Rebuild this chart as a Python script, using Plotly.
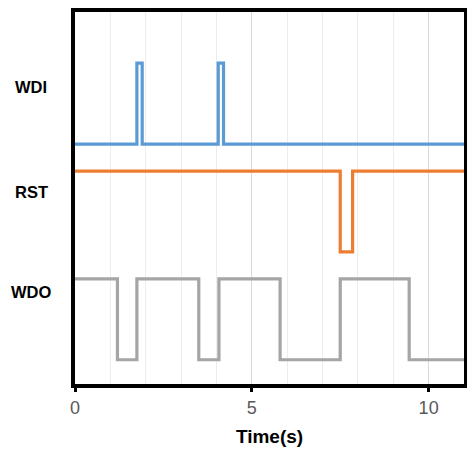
import plotly.graph_objects as go

# Signal step data (time in seconds, level in chart units)
wdi_t = [0, 1.75, 1.9, 4.05, 4.2, 11]
wdi_v = [8, 11, 8, 11, 8, 8]

rst_t = [0, 7.5, 7.85, 11]
rst_v = [7, 4, 7, 7]

wdo_t = [0, 1.2, 1.75, 3.5, 4.07, 5.8, 7.5, 9.45, 11]
wdo_v = [3, 0, 3, 0, 3, 0, 3, 0, 0]

signal_names = ["WDI", "RST", "WDO"]
signal_label_y = [10.12, 6.22, 2.51]
x_tickvals = [0, 5, 10]
x_ticktext = ["0", "5", "10"]

colors = ["#5B9BD5", "#ED7D31", "#A5A5A5"]

fig = go.Figure()
for t, v, name, c in zip([wdi_t, rst_t, wdo_t], [wdi_v, rst_v, wdo_v], signal_names, colors):
    fig.add_trace(go.Scatter(x=t, y=v, mode="lines", name=name,
                             line=dict(color=c, width=3.2, shape="hv"),
                             showlegend=False, hoverinfo="skip"))

for name, yv in zip(signal_names, signal_label_y):
    fig.add_annotation(text="<b>%s</b>" % name, x=(31 - 75) / 389, xref="paper", y=yv, yref="y",
                       xanchor="center", yanchor="middle", showarrow=False,
                       font=dict(family="Arial", size=16.5, color="#000000"))

fig.update_layout(
    width=467, height=450,
    margin=dict(l=75, r=3, t=12, b=66),
    plot_bgcolor="white", paper_bgcolor="white",
    xaxis=dict(range=[0, 11], tickvals=x_tickvals, ticktext=x_ticktext,
               showgrid=True, gridcolor="#D9D9D9", gridwidth=1,
               minor=dict(dtick=1, showgrid=True, gridcolor="#EDEDED", gridwidth=1),
               showline=True, linecolor="black", linewidth=4, mirror=True,
               ticks="outside", tickcolor="black", tickwidth=3, ticklen=4,
               tickfont=dict(family="Arial", size=18, color="#595959"),
               title=dict(text="<b>Time(s)</b>", font=dict(family="Arial", size=19, color="#000000"), standoff=14),
               zeroline=False, automargin=False),
    yaxis=dict(range=[-0.9, 12.9], showgrid=False, showticklabels=False, ticks="",
               showline=True, linecolor="black", linewidth=4, mirror=True, zeroline=False,
               automargin=False),
)

fig.write_html("out.html", config={"displayModeBar": False},
               post_script="document.body.style.margin='0';")
